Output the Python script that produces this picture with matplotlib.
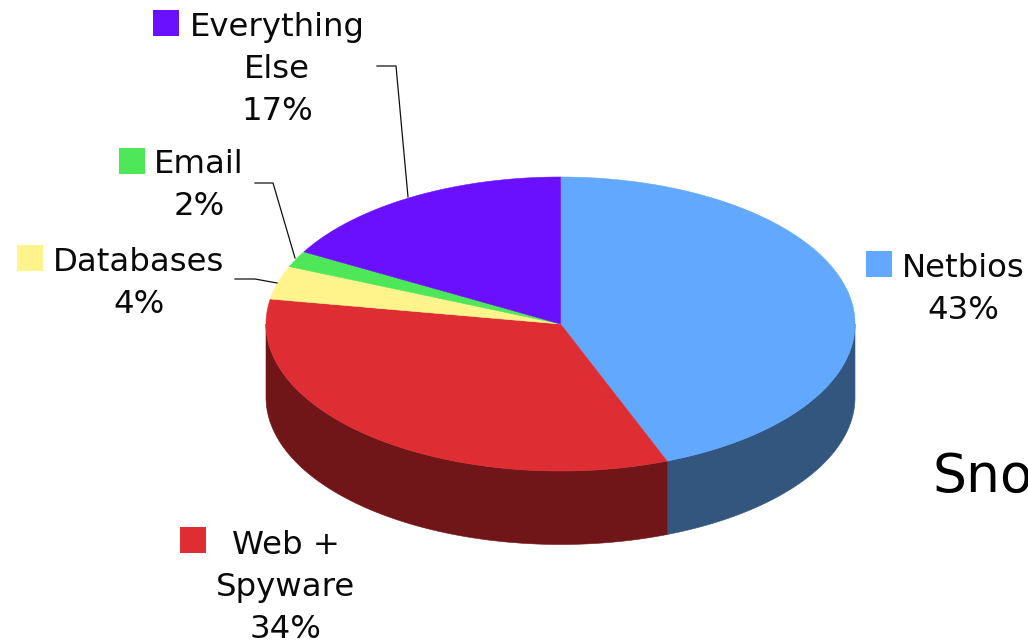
import numpy as np
import matplotlib
matplotlib.use("Agg")
import matplotlib.pyplot as plt
from matplotlib.patches import Polygon, Rectangle

# Traffic share by category, clockwise from twelve o'clock
categories = ["Netbios", "Web +\nSpyware", "Databases", "Email", "Everything\nElse"]
shares = [43, 34, 4, 2, 17]
top_colors = ["#62A8FF", "#DF2E33", "#FFF38C", "#4EE75A", "#6A10FF"]
side_colors = ["#32567E", "#701618", "#8A8350", "#2A7A30", "#380888"]

CX, CY, RX, RY, DEPTH = 560.5, 324.0, 294.5, 147.0, 73.5


def view_angle(pct):
    """Turn a cumulative percentage into the angle drawn on the tilted disc."""
    deg = np.asarray(pct, dtype=float) * 3.6
    # The tilted view shifts slice edges by a few degrees around the rim
    shift = np.interp(deg, [0, 154.8, 277.2, 291.6, 298.8, 360], [0, 4, 2.6, 1.4, 0.6, 0])
    return np.radians(deg + shift)


def rim(t, drop=0.0):
    return np.column_stack([CX + RX * np.sin(t), CY - RY * np.cos(t) + drop])


fig = plt.figure(figsize=(10.28, 6.4), dpi=100)
ax = fig.add_axes([0, 0, 1, 1])
ax.set_xlim(0, 1028)
ax.set_ylim(640, 0)
ax.axis("off")

edges = np.concatenate([[0], np.cumsum(shares)])

# Outer wall: only the part of the rim that faces the viewer
for i, color in enumerate(side_colors):
    a0, a1 = view_angle(edges[i]), view_angle(edges[i + 1])
    lo, hi = max(a0, np.pi / 2), min(a1, 3 * np.pi / 2)
    if hi <= lo:
        continue
    t = np.linspace(lo, hi, 200)
    ax.add_patch(Polygon(np.vstack([rim(t), rim(t[::-1], DEPTH)]),
                         closed=True, fc=color, ec=color, lw=0.4, zorder=1))

# Top face
for i, color in enumerate(top_colors):
    t = np.linspace(view_angle(edges[i]), view_angle(edges[i + 1]), 300)
    ax.add_patch(Polygon(np.vstack([[CX, CY], rim(t)]),
                         closed=True, fc=color, ec=color, lw=0.4, zorder=2))

# Category labels with their colour keys; y is the first line's baseline
FS = 23.3
label_pos = [(963, 277), (286, 554), (139, 271), (199, 173), (277, 36)]
key_pos = [(866, 251), (180, 527), (17, 245), (119, 148), (153, 10)]
for name, share, color, (x, y), (kx, ky) in zip(categories, shares, top_colors, label_pos, key_pos):
    lines = name.split("\n") + [f"{share}%"]
    for j, line in enumerate(lines):
        ax.text(x, y + j * 42, line, ha="center", va="baseline", fontsize=FS,
                family="DejaVu Sans", color="#0a0a0a", zorder=4)
    ax.add_patch(Rectangle((kx, ky), 26, 26, fc=color, ec="none", zorder=3))

# Leader lines for the narrow slices
leaders = [
    ([377, 396, 408], [66, 66, 197]),
    ([255, 273, 295], [183, 183, 258]),
    ([235, 255, 277], [279, 279, 283]),
]
for xs, ys in leaders:
    ax.plot(xs, ys, color="#111111", lw=0.9, zorder=3)

# Text running off the right edge of the slide
ax.text(932, 492, "Snort", ha="left", va="baseline", fontsize=38.5,
        family="DejaVu Sans", color="black", zorder=4)

fig.savefig("out.png", dpi=100)
